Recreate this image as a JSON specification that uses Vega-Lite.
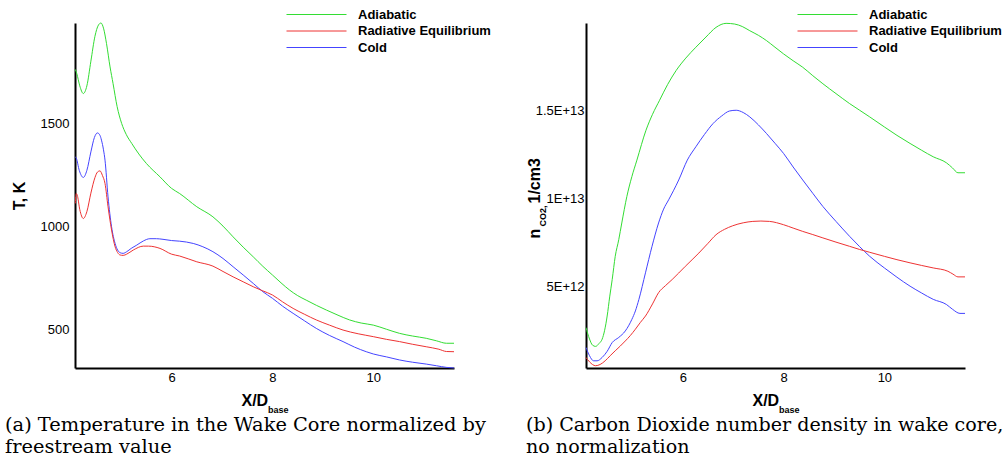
{
  "$schema": "https://vega.github.io/schema/vega-lite/v6.json",
  "padding": {"left": 5, "top": 8, "right": 0, "bottom": 0},
  "background": "white",
  "spacing": 35,
  "config": {
    "view": {"stroke": null},
    "font": "Liberation Sans",
    "axis": {"grid": false, "domainColor": "black", "domainWidth": 2, "tickColor": "black", "labelColor": "black", "labelFont": "Liberation Sans", "labelFontSize": 13, "titleColor": "black", "titleFont": "Liberation Sans", "titleFontWeight": "bold", "titleFontSize": 16},
    "legend": {"orient": "none", "legendX": 235, "legendY": -15, "title": null, "symbolType": "M-6,0H6", "symbolSize": 100, "symbolStrokeWidth": 1, "labelFont": "Liberation Sans", "labelFontWeight": "bold", "labelFontSize": 13, "labelColor": "black", "labelOffset": 35, "rowPadding": 2.5, "padding": 0},
    "title": {"orient": "bottom", "anchor": "start", "frame": "bounds", "font": "DejaVu Serif", "fontSize": 19.4, "fontWeight": "normal", "color": "black", "lineHeight": 22, "offset": 2}
  },
  "datasets": {
    "temp": [
      {"s": "Adiabatic", "x": 4.09, "v": 1760}, {"s": "Adiabatic", "x": 4.12, "v": 1740}, {"s": "Adiabatic", "x": 4.18, "v": 1680}, {"s": "Adiabatic", "x": 4.25, "v": 1643}, {"s": "Adiabatic", "x": 4.32, "v": 1680}, {"s": "Adiabatic", "x": 4.4, "v": 1800}, {"s": "Adiabatic", "x": 4.48, "v": 1920}, {"s": "Adiabatic", "x": 4.55, "v": 1975}, {"s": "Adiabatic", "x": 4.6, "v": 1985}, {"s": "Adiabatic", "x": 4.65, "v": 1960}, {"s": "Adiabatic", "x": 4.71, "v": 1885}, {"s": "Adiabatic", "x": 4.78, "v": 1772}, {"s": "Adiabatic", "x": 4.84, "v": 1691}, {"s": "Adiabatic", "x": 4.92, "v": 1580}, {"s": "Adiabatic", "x": 5.01, "v": 1498}, {"s": "Adiabatic", "x": 5.1, "v": 1445}, {"s": "Adiabatic", "x": 5.21, "v": 1401}, {"s": "Adiabatic", "x": 5.35, "v": 1350}, {"s": "Adiabatic", "x": 5.5, "v": 1304}, {"s": "Adiabatic", "x": 5.77, "v": 1239}, {"s": "Adiabatic", "x": 6.0, "v": 1183}, {"s": "Adiabatic", "x": 6.16, "v": 1158}, {"s": "Adiabatic", "x": 6.5, "v": 1094}, {"s": "Adiabatic", "x": 6.82, "v": 1045}, {"s": "Adiabatic", "x": 7.02, "v": 1000}, {"s": "Adiabatic", "x": 7.22, "v": 948}, {"s": "Adiabatic", "x": 7.42, "v": 898}, {"s": "Adiabatic", "x": 7.62, "v": 851}, {"s": "Adiabatic", "x": 7.81, "v": 805}, {"s": "Adiabatic", "x": 8.0, "v": 763}, {"s": "Adiabatic", "x": 8.17, "v": 725}, {"s": "Adiabatic", "x": 8.34, "v": 690}, {"s": "Adiabatic", "x": 8.5, "v": 663}, {"s": "Adiabatic", "x": 8.67, "v": 641}, {"s": "Adiabatic", "x": 8.87, "v": 616}, {"s": "Adiabatic", "x": 9.07, "v": 593}, {"s": "Adiabatic", "x": 9.3, "v": 568}, {"s": "Adiabatic", "x": 9.53, "v": 545}, {"s": "Adiabatic", "x": 9.76, "v": 530}, {"s": "Adiabatic", "x": 10.0, "v": 520}, {"s": "Adiabatic", "x": 10.26, "v": 500}, {"s": "Adiabatic", "x": 10.52, "v": 480}, {"s": "Adiabatic", "x": 10.78, "v": 467}, {"s": "Adiabatic", "x": 11.05, "v": 456}, {"s": "Adiabatic", "x": 11.25, "v": 444}, {"s": "Adiabatic", "x": 11.45, "v": 432}, {"s": "Adiabatic", "x": 11.6, "v": 432},
      {"s": "Cold", "x": 4.09, "v": 1336}, {"s": "Cold", "x": 4.11, "v": 1330}, {"s": "Cold", "x": 4.17, "v": 1270}, {"s": "Cold", "x": 4.25, "v": 1236}, {"s": "Cold", "x": 4.32, "v": 1270}, {"s": "Cold", "x": 4.4, "v": 1360}, {"s": "Cold", "x": 4.47, "v": 1430}, {"s": "Cold", "x": 4.53, "v": 1452}, {"s": "Cold", "x": 4.58, "v": 1440}, {"s": "Cold", "x": 4.61, "v": 1417}, {"s": "Cold", "x": 4.65, "v": 1370}, {"s": "Cold", "x": 4.68, "v": 1320}, {"s": "Cold", "x": 4.74, "v": 1142}, {"s": "Cold", "x": 4.81, "v": 997}, {"s": "Cold", "x": 4.88, "v": 916}, {"s": "Cold", "x": 4.98, "v": 871}, {"s": "Cold", "x": 5.04, "v": 868}, {"s": "Cold", "x": 5.11, "v": 876}, {"s": "Cold", "x": 5.2, "v": 892}, {"s": "Cold", "x": 5.31, "v": 908}, {"s": "Cold", "x": 5.44, "v": 928}, {"s": "Cold", "x": 5.57, "v": 939}, {"s": "Cold", "x": 5.7, "v": 939}, {"s": "Cold", "x": 5.83, "v": 936}, {"s": "Cold", "x": 6.0, "v": 930}, {"s": "Cold", "x": 6.16, "v": 927}, {"s": "Cold", "x": 6.43, "v": 916}, {"s": "Cold", "x": 6.62, "v": 900}, {"s": "Cold", "x": 6.82, "v": 876}, {"s": "Cold", "x": 7.02, "v": 843}, {"s": "Cold", "x": 7.22, "v": 803}, {"s": "Cold", "x": 7.42, "v": 763}, {"s": "Cold", "x": 7.62, "v": 722}, {"s": "Cold", "x": 7.81, "v": 682}, {"s": "Cold", "x": 8.0, "v": 650}, {"s": "Cold", "x": 8.2, "v": 612}, {"s": "Cold", "x": 8.41, "v": 577}, {"s": "Cold", "x": 8.64, "v": 540}, {"s": "Cold", "x": 8.87, "v": 504}, {"s": "Cold", "x": 9.13, "v": 470}, {"s": "Cold", "x": 9.4, "v": 440}, {"s": "Cold", "x": 9.63, "v": 413}, {"s": "Cold", "x": 9.86, "v": 391}, {"s": "Cold", "x": 10.0, "v": 380}, {"s": "Cold", "x": 10.26, "v": 366}, {"s": "Cold", "x": 10.52, "v": 351}, {"s": "Cold", "x": 10.78, "v": 340}, {"s": "Cold", "x": 11.05, "v": 331}, {"s": "Cold", "x": 11.25, "v": 323}, {"s": "Cold", "x": 11.45, "v": 315}, {"s": "Cold", "x": 11.6, "v": 312},
      {"s": "Radiative Equilibrium", "x": 4.09, "v": 1110}, {"s": "Radiative Equilibrium", "x": 4.11, "v": 1158}, {"s": "Radiative Equilibrium", "x": 4.13, "v": 1150}, {"s": "Radiative Equilibrium", "x": 4.18, "v": 1080}, {"s": "Radiative Equilibrium", "x": 4.25, "v": 1037}, {"s": "Radiative Equilibrium", "x": 4.32, "v": 1070}, {"s": "Radiative Equilibrium", "x": 4.4, "v": 1160}, {"s": "Radiative Equilibrium", "x": 4.48, "v": 1235}, {"s": "Radiative Equilibrium", "x": 4.53, "v": 1262}, {"s": "Radiative Equilibrium", "x": 4.58, "v": 1268}, {"s": "Radiative Equilibrium", "x": 4.63, "v": 1245}, {"s": "Radiative Equilibrium", "x": 4.68, "v": 1207}, {"s": "Radiative Equilibrium", "x": 4.74, "v": 1094}, {"s": "Radiative Equilibrium", "x": 4.81, "v": 981}, {"s": "Radiative Equilibrium", "x": 4.88, "v": 900}, {"s": "Radiative Equilibrium", "x": 4.93, "v": 872}, {"s": "Radiative Equilibrium", "x": 4.98, "v": 860}, {"s": "Radiative Equilibrium", "x": 5.04, "v": 858}, {"s": "Radiative Equilibrium", "x": 5.11, "v": 864}, {"s": "Radiative Equilibrium", "x": 5.24, "v": 884}, {"s": "Radiative Equilibrium", "x": 5.44, "v": 903}, {"s": "Radiative Equilibrium", "x": 5.54, "v": 903}, {"s": "Radiative Equilibrium", "x": 5.77, "v": 892}, {"s": "Radiative Equilibrium", "x": 6.0, "v": 864}, {"s": "Radiative Equilibrium", "x": 6.16, "v": 855}, {"s": "Radiative Equilibrium", "x": 6.5, "v": 827}, {"s": "Radiative Equilibrium", "x": 6.82, "v": 806}, {"s": "Radiative Equilibrium", "x": 7.02, "v": 780}, {"s": "Radiative Equilibrium", "x": 7.22, "v": 754}, {"s": "Radiative Equilibrium", "x": 7.42, "v": 730}, {"s": "Radiative Equilibrium", "x": 7.62, "v": 706}, {"s": "Radiative Equilibrium", "x": 7.81, "v": 686}, {"s": "Radiative Equilibrium", "x": 8.0, "v": 666}, {"s": "Radiative Equilibrium", "x": 8.2, "v": 633}, {"s": "Radiative Equilibrium", "x": 8.41, "v": 601}, {"s": "Radiative Equilibrium", "x": 8.64, "v": 572}, {"s": "Radiative Equilibrium", "x": 8.87, "v": 545}, {"s": "Radiative Equilibrium", "x": 9.13, "v": 520}, {"s": "Radiative Equilibrium", "x": 9.4, "v": 496}, {"s": "Radiative Equilibrium", "x": 9.7, "v": 478}, {"s": "Radiative Equilibrium", "x": 10.0, "v": 464}, {"s": "Radiative Equilibrium", "x": 10.26, "v": 451}, {"s": "Radiative Equilibrium", "x": 10.52, "v": 440}, {"s": "Radiative Equilibrium", "x": 10.78, "v": 427}, {"s": "Radiative Equilibrium", "x": 11.05, "v": 415}, {"s": "Radiative Equilibrium", "x": 11.3, "v": 403}, {"s": "Radiative Equilibrium", "x": 11.45, "v": 392}, {"s": "Radiative Equilibrium", "x": 11.6, "v": 391}
    ],
    "co2": [
      {"s": "Adiabatic", "x": 4.08, "v": 2.65e12}, {"s": "Adiabatic", "x": 4.15, "v": 2.0e12}, {"s": "Adiabatic", "x": 4.21, "v": 1.65e12}, {"s": "Adiabatic", "x": 4.27, "v": 1.58e12}, {"s": "Adiabatic", "x": 4.34, "v": 1.75e12}, {"s": "Adiabatic", "x": 4.4, "v": 1.99e12}, {"s": "Adiabatic", "x": 4.45, "v": 2.5e12}, {"s": "Adiabatic", "x": 4.5, "v": 3.31e12}, {"s": "Adiabatic", "x": 4.55, "v": 4.4e12}, {"s": "Adiabatic", "x": 4.6, "v": 5.39e12}, {"s": "Adiabatic", "x": 4.66, "v": 6.71e12}, {"s": "Adiabatic", "x": 4.73, "v": 7.66e12}, {"s": "Adiabatic", "x": 4.79, "v": 8.61e12}, {"s": "Adiabatic", "x": 4.89, "v": 10.11e12}, {"s": "Adiabatic", "x": 4.99, "v": 11.25e12}, {"s": "Adiabatic", "x": 5.09, "v": 12.19e12}, {"s": "Adiabatic", "x": 5.27, "v": 13.89e12}, {"s": "Adiabatic", "x": 5.4, "v": 14.8e12}, {"s": "Adiabatic", "x": 5.54, "v": 15.6e12}, {"s": "Adiabatic", "x": 5.7, "v": 16.5e12}, {"s": "Adiabatic", "x": 5.87, "v": 17.3e12}, {"s": "Adiabatic", "x": 6.06, "v": 18.0e12}, {"s": "Adiabatic", "x": 6.26, "v": 18.62e12}, {"s": "Adiabatic", "x": 6.46, "v": 19.2e12}, {"s": "Adiabatic", "x": 6.66, "v": 19.75e12}, {"s": "Adiabatic", "x": 6.86, "v": 19.98e12}, {"s": "Adiabatic", "x": 7.03, "v": 19.94e12}, {"s": "Adiabatic", "x": 7.18, "v": 19.8e12}, {"s": "Adiabatic", "x": 7.33, "v": 19.56e12}, {"s": "Adiabatic", "x": 7.5, "v": 19.3e12}, {"s": "Adiabatic", "x": 7.66, "v": 19.0e12}, {"s": "Adiabatic", "x": 7.83, "v": 18.62e12}, {"s": "Adiabatic", "x": 8.0, "v": 18.24e12}, {"s": "Adiabatic", "x": 8.19, "v": 17.85e12}, {"s": "Adiabatic", "x": 8.38, "v": 17.48e12}, {"s": "Adiabatic", "x": 8.58, "v": 17.0e12}, {"s": "Adiabatic", "x": 8.78, "v": 16.54e12}, {"s": "Adiabatic", "x": 9.04, "v": 15.98e12}, {"s": "Adiabatic", "x": 9.31, "v": 15.41e12}, {"s": "Adiabatic", "x": 9.51, "v": 15.03e12}, {"s": "Adiabatic", "x": 9.71, "v": 14.65e12}, {"s": "Adiabatic", "x": 10.0, "v": 14.08e12}, {"s": "Adiabatic", "x": 10.25, "v": 13.6e12}, {"s": "Adiabatic", "x": 10.51, "v": 13.14e12}, {"s": "Adiabatic", "x": 10.74, "v": 12.75e12}, {"s": "Adiabatic", "x": 10.97, "v": 12.38e12}, {"s": "Adiabatic", "x": 11.23, "v": 12.04e12}, {"s": "Adiabatic", "x": 11.35, "v": 11.75e12}, {"s": "Adiabatic", "x": 11.46, "v": 11.47e12}, {"s": "Adiabatic", "x": 11.6, "v": 11.47e12},
      {"s": "Cold", "x": 4.08, "v": 1.52e12}, {"s": "Cold", "x": 4.15, "v": 1.05e12}, {"s": "Cold", "x": 4.23, "v": 0.76e12}, {"s": "Cold", "x": 4.3, "v": 0.76e12}, {"s": "Cold", "x": 4.4, "v": 0.95e12}, {"s": "Cold", "x": 4.5, "v": 1.3e12}, {"s": "Cold", "x": 4.6, "v": 1.8e12}, {"s": "Cold", "x": 4.73, "v": 2.09e12}, {"s": "Cold", "x": 4.86, "v": 2.46e12}, {"s": "Cold", "x": 4.99, "v": 3.12e12}, {"s": "Cold", "x": 5.06, "v": 3.6e12}, {"s": "Cold", "x": 5.13, "v": 4.26e12}, {"s": "Cold", "x": 5.26, "v": 5.77e12}, {"s": "Cold", "x": 5.39, "v": 7.28e12}, {"s": "Cold", "x": 5.52, "v": 8.61e12}, {"s": "Cold", "x": 5.62, "v": 9.4e12}, {"s": "Cold", "x": 5.72, "v": 9.93e12}, {"s": "Cold", "x": 5.92, "v": 11.06e12}, {"s": "Cold", "x": 6.09, "v": 12.19e12}, {"s": "Cold", "x": 6.26, "v": 12.95e12}, {"s": "Cold", "x": 6.43, "v": 13.65e12}, {"s": "Cold", "x": 6.6, "v": 14.27e12}, {"s": "Cold", "x": 6.77, "v": 14.7e12}, {"s": "Cold", "x": 6.93, "v": 14.99e12}, {"s": "Cold", "x": 7.06, "v": 15.03e12}, {"s": "Cold", "x": 7.2, "v": 14.9e12}, {"s": "Cold", "x": 7.33, "v": 14.65e12}, {"s": "Cold", "x": 7.5, "v": 14.2e12}, {"s": "Cold", "x": 7.66, "v": 13.71e12}, {"s": "Cold", "x": 7.83, "v": 13.15e12}, {"s": "Cold", "x": 8.0, "v": 12.57e12}, {"s": "Cold", "x": 8.19, "v": 11.8e12}, {"s": "Cold", "x": 8.38, "v": 11.06e12}, {"s": "Cold", "x": 8.58, "v": 10.3e12}, {"s": "Cold", "x": 8.78, "v": 9.55e12}, {"s": "Cold", "x": 9.04, "v": 8.7e12}, {"s": "Cold", "x": 9.31, "v": 7.85e12}, {"s": "Cold", "x": 9.51, "v": 7.26e12}, {"s": "Cold", "x": 9.71, "v": 6.71e12}, {"s": "Cold", "x": 10.0, "v": 6.05e12}, {"s": "Cold", "x": 10.25, "v": 5.52e12}, {"s": "Cold", "x": 10.51, "v": 5.01e12}, {"s": "Cold", "x": 10.74, "v": 4.62e12}, {"s": "Cold", "x": 10.97, "v": 4.26e12}, {"s": "Cold", "x": 11.23, "v": 3.97e12}, {"s": "Cold", "x": 11.35, "v": 3.7e12}, {"s": "Cold", "x": 11.5, "v": 3.46e12}, {"s": "Cold", "x": 11.6, "v": 3.46e12},
      {"s": "Radiative Equilibrium", "x": 4.08, "v": 0.95e12}, {"s": "Radiative Equilibrium", "x": 4.15, "v": 0.7e12}, {"s": "Radiative Equilibrium", "x": 4.27, "v": 0.48e12}, {"s": "Radiative Equilibrium", "x": 4.36, "v": 0.55e12}, {"s": "Radiative Equilibrium", "x": 4.46, "v": 0.76e12}, {"s": "Radiative Equilibrium", "x": 4.56, "v": 1.05e12}, {"s": "Radiative Equilibrium", "x": 4.66, "v": 1.33e12}, {"s": "Radiative Equilibrium", "x": 4.76, "v": 1.6e12}, {"s": "Radiative Equilibrium", "x": 4.86, "v": 1.89e12}, {"s": "Radiative Equilibrium", "x": 4.96, "v": 2.2e12}, {"s": "Radiative Equilibrium", "x": 5.06, "v": 2.56e12}, {"s": "Radiative Equilibrium", "x": 5.16, "v": 2.95e12}, {"s": "Radiative Equilibrium", "x": 5.26, "v": 3.31e12}, {"s": "Radiative Equilibrium", "x": 5.4, "v": 4.0e12}, {"s": "Radiative Equilibrium", "x": 5.52, "v": 4.64e12}, {"s": "Radiative Equilibrium", "x": 5.66, "v": 5.05e12}, {"s": "Radiative Equilibrium", "x": 5.79, "v": 5.39e12}, {"s": "Radiative Equilibrium", "x": 6.05, "v": 6.14e12}, {"s": "Radiative Equilibrium", "x": 6.32, "v": 6.9e12}, {"s": "Radiative Equilibrium", "x": 6.5, "v": 7.45e12}, {"s": "Radiative Equilibrium", "x": 6.66, "v": 7.94e12}, {"s": "Radiative Equilibrium", "x": 6.83, "v": 8.25e12}, {"s": "Radiative Equilibrium", "x": 6.99, "v": 8.45e12}, {"s": "Radiative Equilibrium", "x": 7.2, "v": 8.62e12}, {"s": "Radiative Equilibrium", "x": 7.39, "v": 8.7e12}, {"s": "Radiative Equilibrium", "x": 7.55, "v": 8.72e12}, {"s": "Radiative Equilibrium", "x": 7.72, "v": 8.7e12}, {"s": "Radiative Equilibrium", "x": 8.0, "v": 8.51e12}, {"s": "Radiative Equilibrium", "x": 8.19, "v": 8.32e12}, {"s": "Radiative Equilibrium", "x": 8.38, "v": 8.13e12}, {"s": "Radiative Equilibrium", "x": 8.58, "v": 7.95e12}, {"s": "Radiative Equilibrium", "x": 8.78, "v": 7.76e12}, {"s": "Radiative Equilibrium", "x": 9.04, "v": 7.52e12}, {"s": "Radiative Equilibrium", "x": 9.31, "v": 7.28e12}, {"s": "Radiative Equilibrium", "x": 9.51, "v": 7.1e12}, {"s": "Radiative Equilibrium", "x": 9.71, "v": 6.94e12}, {"s": "Radiative Equilibrium", "x": 10.0, "v": 6.71e12}, {"s": "Radiative Equilibrium", "x": 10.25, "v": 6.52e12}, {"s": "Radiative Equilibrium", "x": 10.51, "v": 6.34e12}, {"s": "Radiative Equilibrium", "x": 10.74, "v": 6.19e12}, {"s": "Radiative Equilibrium", "x": 10.97, "v": 6.05e12}, {"s": "Radiative Equilibrium", "x": 11.26, "v": 5.86e12}, {"s": "Radiative Equilibrium", "x": 11.36, "v": 5.7e12}, {"s": "Radiative Equilibrium", "x": 11.46, "v": 5.54e12}, {"s": "Radiative Equilibrium", "x": 11.6, "v": 5.54e12}
    ]
  },
  "resolve": {"scale": {"color": "independent"}, "legend": {"color": "independent"}},
  "hconcat": [
    {
      "width": 379, "height": 345,
      "title": {"text": ["(a) Temperature in the Wake Core normalized by", "freestream value"], "dx": -6},
      "data": {"name": "temp"},
      "resolve": {"axis": {"x": "independent", "y": "independent"}},
      "layer": [
        {
          "mark": {"type": "line", "strokeWidth": 1, "interpolate": "monotone"},
          "encoding": {
            "x": {"field": "x", "type": "quantitative", "scale": {"domain": [4.085, 11.6], "nice": false, "zero": false},
              "axis": {"orient": "bottom", "values": [6, 8, 10], "ticks": false, "tickSize": 0, "labelPadding": 3, "title": "X/D", "titleX": 166, "titleY": 37.5, "titleAlign": "left", "titleBaseline": "alphabetic"}},
            "y": {"field": "v", "type": "quantitative", "scale": {"domain": [312, 1985], "nice": false, "zero": false},
              "axis": {"orient": "left", "values": [500, 1000, 1500], "format": "d", "ticks": false, "tickSize": 0, "labelPadding": 6, "title": "T, K", "titleAngle": 270, "titleX": -56, "titleY": 172.5, "titleAlign": "center", "titleBaseline": "middle"}},
            "color": {"field": "s", "type": "nominal", "scale": {"domain": ["Adiabatic", "Radiative Equilibrium", "Cold"], "range": ["#33dd33", "#ee3333", "#4444ff"]}}
          }
        },
        {
          "mark": {"type": "line", "opacity": 0},
          "encoding": {
            "x": {"field": "x", "type": "quantitative", "scale": {"domain": [4.085, 11.6], "nice": false, "zero": false},
              "axis": {"orient": "bottom", "values": [6], "ticks": false, "labels": false, "domain": false, "title": "base", "titleFontSize": 9, "titleX": 192.5, "titleY": 44, "titleAlign": "left", "titleBaseline": "alphabetic"}},
            "y": {"field": "v", "type": "quantitative", "scale": {"domain": [312, 1985], "nice": false, "zero": false}, "axis": null},
            "detail": {"field": "s", "type": "nominal"}
          }
        }
      ]
    },
    {
      "width": 379, "height": 345,
      "title": {"text": ["(b) Carbon Dioxide number density in wake core,", "no normalization"], "dx": 0, "fontSize": 19.1},
      "data": {"name": "co2"},
      "resolve": {"axis": {"x": "independent", "y": "independent"}},
      "layer": [
        {
          "mark": {"type": "line", "strokeWidth": 1, "interpolate": "monotone"},
          "encoding": {
            "x": {"field": "x", "type": "quantitative", "scale": {"domain": [4.08, 11.6], "nice": false, "zero": false},
              "axis": {"orient": "bottom", "values": [6, 8, 10], "ticks": false, "tickSize": 0, "labelPadding": 3, "title": "X/D", "titleX": 166, "titleY": 37.5, "titleAlign": "left", "titleBaseline": "alphabetic"}},
            "y": {"field": "v", "type": "quantitative", "scale": {"domain": [3.5e11, 2.0e13], "nice": false, "zero": false},
              "axis": {"orient": "left", "values": [5e12, 1e13, 1.5e13], "labelExpr": "upper(format(datum.value, '.2~e'))", "ticks": false, "tickSize": 0, "labelPadding": 2, "title": "n", "titleAngle": 270, "titleX": -47, "titleY": 215, "titleAlign": "left", "titleBaseline": "alphabetic"}},
            "color": {"field": "s", "type": "nominal", "scale": {"domain": ["Adiabatic", "Radiative Equilibrium", "Cold"], "range": ["#33dd33", "#ee3333", "#4444ff"]}}
          }
        },
        {
          "mark": {"type": "line", "opacity": 0},
          "encoding": {
            "x": {"field": "x", "type": "quantitative", "scale": {"domain": [4.08, 11.6], "nice": false, "zero": false},
              "axis": {"orient": "bottom", "values": [6], "ticks": false, "labels": false, "domain": false, "title": "base", "titleFontSize": 9, "titleX": 192.5, "titleY": 44, "titleAlign": "left", "titleBaseline": "alphabetic"}},
            "y": {"field": "v", "type": "quantitative", "scale": {"domain": [3.5e11, 2.0e13], "nice": false, "zero": false},
              "axis": {"orient": "left", "values": [1e13], "ticks": false, "labels": false, "domain": false, "title": "CO2,", "titleFontSize": 9, "titleAngle": 270, "titleX": -40.5, "titleY": 203, "titleAlign": "left", "titleBaseline": "alphabetic"}},
            "detail": {"field": "s", "type": "nominal"}
          }
        },
        {
          "mark": {"type": "line", "opacity": 0},
          "encoding": {
            "x": {"field": "x", "type": "quantitative", "scale": {"domain": [4.08, 11.6], "nice": false, "zero": false}, "axis": null},
            "y": {"field": "v", "type": "quantitative", "scale": {"domain": [3.5e11, 2.0e13], "nice": false, "zero": false},
              "axis": {"orient": "left", "values": [1e13], "ticks": false, "labels": false, "domain": false, "title": "1/cm3", "titleAngle": 270, "titleX": -47, "titleY": 180, "titleAlign": "left", "titleBaseline": "alphabetic"}},
            "detail": {"field": "s", "type": "nominal"}
          }
        }
      ]
    }
  ]
}
